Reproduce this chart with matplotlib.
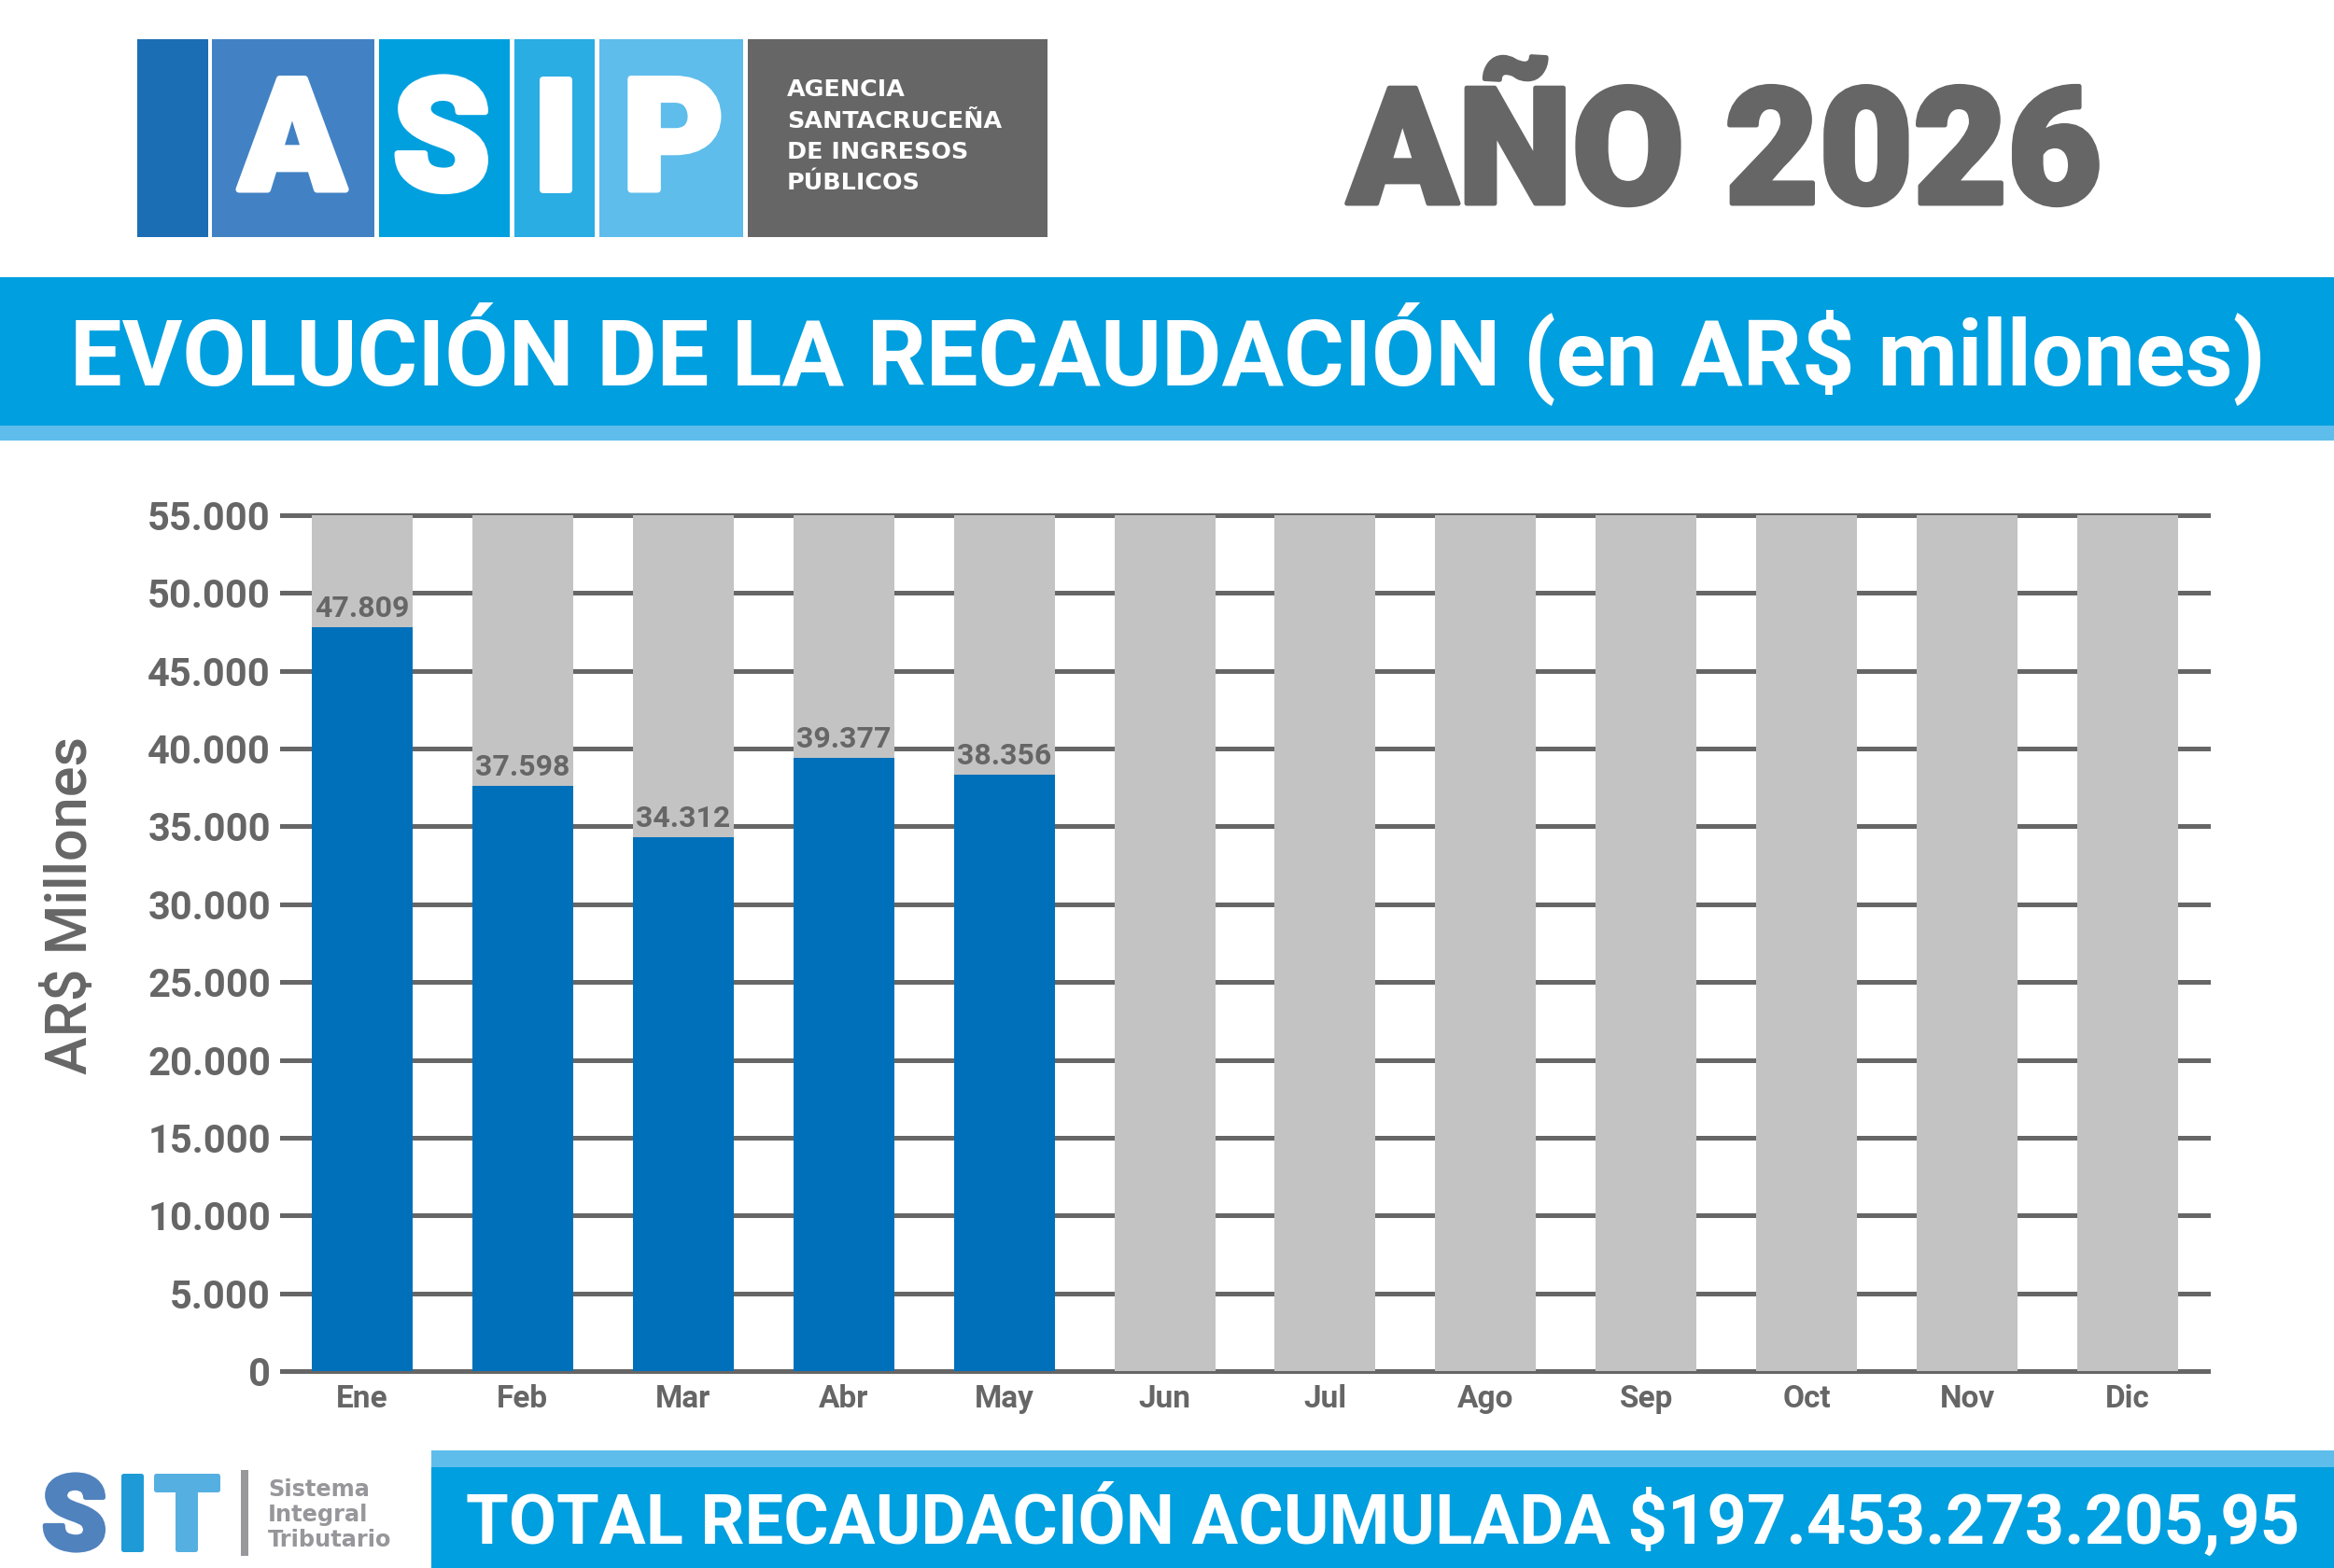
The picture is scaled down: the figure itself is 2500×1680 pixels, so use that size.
import matplotlib
matplotlib.use("Agg")
import matplotlib.pyplot as plt
import matplotlib.patheffects as pe
from matplotlib.patches import Rectangle

# ---------------- data ----------------
meses = ["Ene", "Feb", "Mar", "Abr", "May", "Jun", "Jul", "Ago", "Sep", "Oct", "Nov", "Dic"]
recaudacion = [47809, 37598, 34312, 39377, 38356]
fondo = [55000, 55000, 55000, 55000, 55000, 55000, 55000, 55000, 55000, 55000, 55000, 55000]
y_ticks = [0, 5000, 10000, 15000, 20000, 25000, 30000, 35000, 40000, 45000, 50000, 55000]
titulo = "EVOLUCIÓN DE LA RECAUDACIÓN (en AR$ millones)"
anio = "AÑO 2026"
total_texto = "TOTAL RECAUDACIÓN ACUMULADA $197.453.273.205,95"
eje_y = "AR$ Millones"
agencia = ["AGENCIA", "SANTACRUCEÑA", "DE INGRESOS", "PÚBLICOS"]
sit_lineas = ["Sistema", "Integral", "Tributario"]

def miles(v):
    return f"{v:,}".replace(",", ".")

# ---------------- figure ----------------
W, H, DPI = 2500, 1680, 100
PX = 72 / DPI  # points per pixel
fig = plt.figure(figsize=(W / DPI, H / DPI), dpi=DPI, facecolor="white")
renderer = fig.canvas.get_renderer()

bg = fig.add_axes([0, 0, 1, 1], zorder=0)
bg.set_xlim(0, W)
bg.set_ylim(H, 0)
bg.axis("off")

def rect(x0, y0, x1, y1, color):
    bg.add_patch(Rectangle((x0, y0), x1 - x0, y1 - y0, facecolor=color,
                           edgecolor="none", lw=0))

def fit_width(t, target):
    bb = t.get_window_extent(renderer=renderer)
    t.set_fontsize(t.get_fontsize() * target / bb.width)

def heavy(color, px):
    return [pe.withStroke(linewidth=px * PX, foreground=color)]

GRIS = "#666666"

# ---------------- header logo ----------------
rect(147, 42, 223, 254, "#1C6EB4")
rect(227, 42, 401, 254, "#4282C4")
rect(406, 42, 546, 254, "#00A0DF")
rect(551, 42, 637, 254, "#29ADE3")
rect(642, 42, 796, 254, "#5EBDEB")
rect(801, 42, 1122, 254, "#666666")

for ch, cx in zip("ASIP", [313, 473, 595, 721]):
    bg.text(cx, 203, ch, ha="center", va="baseline", fontsize=120,
            family="Roboto", fontweight="black", color="white",
            path_effects=heavy("white", 7))

for line, yb in zip(agencia, [103, 137, 170, 203]):
    bg.text(843, yb, line, ha="left", va="baseline", fontsize=18.3,
            family="DejaVu Sans", fontweight="bold", color="white")

t_anio = bg.text(1443, 218, anio, ha="left", va="baseline", fontsize=110,
                 family="Roboto", fontweight="black", color=GRIS,
                 path_effects=heavy(GRIS, 5))
fit_width(t_anio, 808)

# ---------------- title band ----------------
rect(0, 297, W, 456, "#009FDF")
rect(0, 456, W, 472, "#5EBDEB")
t_tit = bg.text(75, 412, titulo, ha="left", va="baseline", fontsize=72,
                family="Roboto", fontweight="bold", color="white")
fit_width(t_tit, 2352)

# ---------------- bottom band ----------------
rect(462, 1554, W, 1572, "#5EBDEB")
rect(462, 1572, W, H, "#009FDF")
t_tot = bg.text(499, 1654, total_texto, ha="left", va="baseline", fontsize=57,
                family="Roboto", fontweight="bold", color="white")
fit_width(t_tot, 1961)

# SIT logo
for ch, cx, col in zip("SIT", [79.5, 141.5, 199.5], ["#5082BE", "#1E9BD7", "#55AFE1"]):
    bg.text(cx, 1660, ch, ha="center", va="baseline", fontsize=80,
            family="Roboto", fontweight="black", color=col,
            path_effects=heavy(col, 5))
rect(258, 1575, 266, 1667, "#98989C")
for line, yb in zip(sit_lineas, [1603, 1630, 1657]):
    bg.text(287, yb, line, ha="left", va="baseline", fontsize=17.3,
            family="DejaVu Sans", fontweight="bold", color="#96969B")

# y axis label
bg.text(76, 970, eje_y, rotation=90, ha="center", va="center", fontsize=44,
        family="Roboto", fontweight="medium", color=GRIS)

# ---------------- chart ----------------
ax = fig.add_axes([302 / W, (H - 1469) / H, (2365 - 302) / W, (1469 - 552) / H], zorder=1)
ax.patch.set_alpha(0)
xpos = list(range(len(meses)))
ax.bar(xpos, fondo, width=0.628, color="#C3C3C3", zorder=2)
ax.bar(xpos[:len(recaudacion)], recaudacion, width=0.628, color="#0070BA", zorder=3)
ax.set_xlim(-0.5, 11.5)
ax.set_ylim(0, 55000)
ax.set_yticks(y_ticks)
ax.set_yticklabels([miles(v) for v in y_ticks])
ax.set_xticks(xpos)
ax.set_xticklabels(meses)
ax.set_axisbelow(True)
ax.yaxis.grid(True, color=GRIS, linewidth=5 * PX)
for gl in ax.get_ygridlines():
    gl.set_clip_on(False)
for s in ax.spines.values():
    s.set_visible(False)
ax.tick_params(axis="both", length=0, colors=GRIS)
ax.tick_params(axis="y", pad=12 * PX, labelsize=30)
ax.tick_params(axis="x", pad=10, labelsize=24)
for lbl in ax.get_yticklabels() + ax.get_xticklabels():
    lbl.set_fontfamily("Roboto")
    lbl.set_fontweight("bold")

for i, v in enumerate(recaudacion):
    ax.annotate(miles(v), (i, v), xytext=(0, 11 * PX), textcoords="offset points",
                ha="center", va="baseline", fontsize=23, fontweight="bold",
                family="Roboto", color=GRIS, zorder=4)

fig.savefig("out.png", dpi=DPI, facecolor="white")
